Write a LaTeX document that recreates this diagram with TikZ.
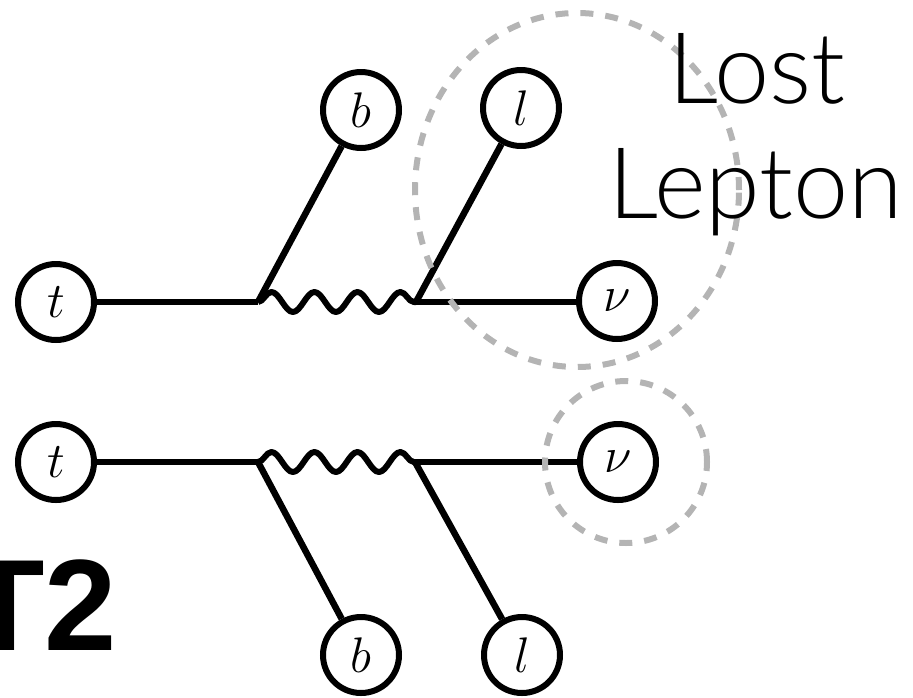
\RequirePackage{fix-cm}
\documentclass[tikz,border=0pt]{standalone}
\usepackage{fontspec}
\newfontfamily\lightsans{Lato Light}
\newfontfamily\headsans{Liberation Sans}
\usetikzlibrary{decorations.pathmorphing}
\definecolor{lostgray}{HTML}{B4B4B4}
\begin{document}
\begin{tikzpicture}[x=1pt,y=-1pt,
  particle/.style={draw, circle, line width=6pt, minimum size=76pt, inner sep=0pt,
                   font=\fontsize{50}{60}\selectfont},
  leg/.style={line width=6.5pt},
  boson/.style={line width=6pt, line join=round, decorate,
                decoration={snake, amplitude=10pt, segment length=43pt}},
  lostregion/.style={draw=lostgray, line width=6pt, dash pattern=on 13pt off 12pt},
  caption/.style={font=\lightsans\fontsize{99}{112}\selectfont, anchor=base, inner sep=0pt}]
\useasboundingbox (0,0) rectangle (913,697);
\clip (0,0) rectangle (913,697);

% upper decay chain
\node[particle] (t1)  at (56,302)  {$t$};
\node[particle] (b1)  at (361,110) {$b$};
\node[particle] (l1)  at (521,108) {$l$};
\node[particle] (nu1) at (617,301) {$\nu$};
\coordinate (v1) at (258,302);
\coordinate (v2) at (416,302);
\draw[leg] (t1) -- (v1);
\draw[leg] (v1) -- (b1);
\draw[boson] (v1) -- (v2);
\draw[leg] (v2) -- (l1);
\draw[leg] (v2) -- (v2 -| nu1.west);

% lower decay chain
\node[particle] (t2)  at (56,462)  {$t$};
\node[particle] (b2)  at (361,655) {$b$};
\node[particle] (l2)  at (522,655) {$l$};
\node[particle] (nu2) at (618,462) {$\nu$};
\coordinate (w1) at (258,462);
\coordinate (w2) at (415,462);
\draw[leg] (t2) -- (w1);
\draw[leg] (w1) -- (b2);
\draw[boson] (w1) -- (w2);
\draw[leg] (w2) -- (l2);
\draw[leg] (w2) -- (w2 -| nu2.west);

% undetected objects
\draw[lostregion] (577,190) ellipse [x radius=162pt, y radius=177pt];
\draw[lostregion] (626,462) circle [radius=81pt];

% labels
\node[caption] (lost) at (757,103) {Lost};
\node[caption] (lepton) at (756,218) {Lepton};
\node[font=\headsans\bfseries\fontsize{130}{150}\selectfont, anchor=base west, inner sep=0pt] (tag) at (-35,650) {T2};
\end{tikzpicture}
\end{document}
